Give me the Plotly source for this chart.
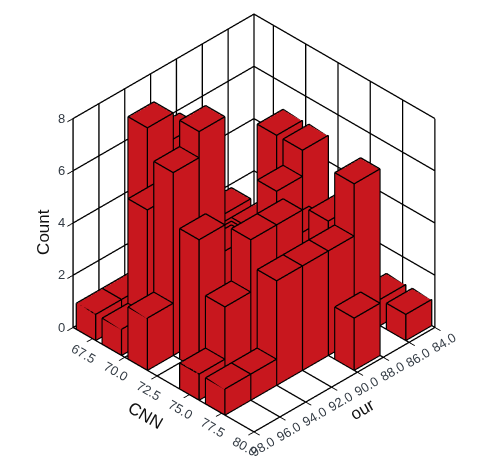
import plotly.graph_objects as go

cnn_bins = [67, 69, 71, 73, 75, 77, 79]
our_bins = [97, 95, 93, 91, 89, 87, 85]
# counts[i][j]: i indexes cnn_bins, j indexes our_bins
counts = [
    [1, 1, 7, 6, 3, 2, 0],
    [1, 5, 3, 3, 2, 2, 5],
    [2, 7, 8, 3, 2, 4, 5],
    [0, 5, 4, 3, 3, 3, 0],
    [1, 3, 5, 5, 2, 4, 0],
    [1, 1, 4, 4, 4, 6, 1],
    [0, 0, 0, 0, 2, 0, 1],
]
cnn_ticks = [67.5, 70.0, 72.5, 75.0, 77.5, 80.0]
our_ticks = [84.0, 86.0, 88.0, 90.0, 92.0, 94.0, 96.0, 98.0]
count_ticks = [0, 2, 4, 6, 8]
cnn_half, our_half = 0.75, 1.0
inset = 0.02  # faces sit just inside their outlines so the outlines stay visible
RED = "#C8171E"
INK = "#000000"

vx, vy, vz, fi, fj, fk = [], [], [], [], [], []
ex, ey, ez = [], [], []
quads = [(0,1,2,3),(4,5,6,7),(0,1,5,4),(1,2,6,5),(2,3,7,6),(3,0,4,7)]
def box(x0, x1, y0, y1, h):
    return [(x0,y0,0),(x1,y0,0),(x1,y1,0),(x0,y1,0),(x0,y0,h),(x1,y0,h),(x1,y1,h),(x0,y1,h)]
for i, c in enumerate(cnn_bins):
    for j, o in enumerate(our_bins):
        h = counts[i][j]
        if h <= 0:
            continue
        outer = box(o - our_half, o + our_half, c - cnn_half, c + cnn_half, h)
        inner = box(o - our_half + inset, o + our_half - inset, c - cnn_half + inset, c + cnn_half - inset, h - inset)
        base = len(vx)
        for p in inner:
            vx.append(p[0]); vy.append(p[1]); vz.append(p[2])
        for a, b, cc, d in quads:
            fi += [base+a, base+a]; fj += [base+b, base+cc]; fk += [base+cc, base+d]
        for a, b in [(0,1),(1,2),(2,3),(3,0),(4,5),(5,6),(6,7),(7,4),(0,4),(1,5),(2,6),(3,7)]:
            ex += [outer[a][0], outer[b][0], None]
            ey += [outer[a][1], outer[b][1], None]
            ez += [outer[a][2], outer[b][2], None]

fig = go.Figure()
fig.add_trace(go.Mesh3d(x=vx, y=vy, z=vz, i=fi, j=fj, k=fk, color=RED, flatshading=True,
    lighting=dict(ambient=1, diffuse=0, specular=0, roughness=1, fresnel=0), hoverinfo="skip"))
fig.add_trace(go.Scatter3d(x=ex, y=ey, z=ez, mode="lines", line=dict(color=INK, width=2.6), hoverinfo="skip"))

TICK = dict(family="Liberation Sans", size=13, color="#333B44")
ann = []
for t in cnn_ticks:
    ann.append(dict(x=98, y=t, z=0, text=f"{t:.1f}", textangle=30, showarrow=False, font=TICK, xshift=-9, yshift=-15))
for t in our_ticks:
    ann.append(dict(x=t, y=80, z=0, text=f"{t:.1f}", textangle=-30, showarrow=False, font=TICK, xshift=9, yshift=-15))
for t in count_ticks:
    ann.append(dict(x=98, y=66, z=t, text=str(t), showarrow=False, font=TICK, xshift=-12, yshift=0))
TITLE = dict(family="Liberation Sans", size=17, color="#111111")
ann.append(dict(x=98, y=72.5, z=0, text="CNN", textangle=30, showarrow=False, font=TITLE, xshift=-12, yshift=-40))
ann.append(dict(x=91, y=80, z=0, text="our", textangle=-30, showarrow=False, font=TITLE, xshift=18, yshift=-30))
ann.append(dict(x=98, y=66, z=4, text="Count", textangle=-90, showarrow=False, font=TITLE, xshift=-29, yshift=-9))

axis = dict(showbackground=False, showgrid=True, gridcolor=INK, gridwidth=3, showline=True, linecolor=INK,
            linewidth=3, ticks="outside", ticklen=8, tickcolor=INK, tickwidth=2, showticklabels=False,
            zeroline=False, showspikes=False, title=dict(text=""))
fig.update_layout(
    width=504, height=468, margin=dict(l=0, r=0, t=0, b=0), paper_bgcolor="white", showlegend=False,
    scene=dict(
        domain=dict(x=[0, 0.976], y=[0.082, 1]),
        aspectmode="manual",
        aspectratio=dict(x=1.19, y=1.19, z=1.19),
        xaxis=dict(axis, range=[84, 98], tickvals=our_ticks),
        yaxis=dict(axis, range=[66, 80], tickvals=cnn_ticks),
        zaxis=dict(axis, range=[0, 8], tickvals=count_ticks),
        camera=dict(projection=dict(type="orthographic"), eye=dict(x=1.25, y=1.25, z=1.25),
                    center=dict(x=0, y=0, z=0), up=dict(x=0, y=0, z=1)),
        annotations=ann,
    ),
)
fig.write_html("out.html")
